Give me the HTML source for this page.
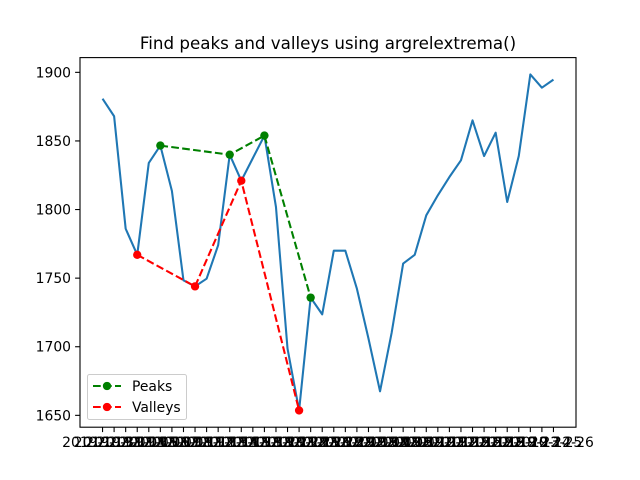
<!DOCTYPE html>
<html><head><meta charset="utf-8"><style>
body{margin:0;background:#fff;}
svg{display:block;font-family:"DejaVu Sans","Liberation Sans",sans-serif;}
</style></head><body>
<svg id="chart" width="640" height="480"></svg>
<script>
const values=[1880.8,1868,1786,1767,1834,1846.6,1813.5,1748.4,1744,1749.6,1774,1840,1821,1837.5,1853.9,1801.8,1698.6,1653.6,1735.8,1723.6,1770,1770,1742.3,1706,1667.5,1710,1760.6,1767,1795.8,1810.4,1823.7,1835.9,1865,1839,1856,1805.5,1839,1898.5,1888.8,1894.7];
const peakIdx=[5,11,14,18];
const valleyIdx=[3,8,12,17];
const yTicks=[1650,1700,1750,1800,1850,1900];
const dates=["2019-10-31","2019-11-01","2019-11-04","2019-11-05","2019-11-06","2019-11-07","2019-11-08","2019-11-11","2019-11-12","2019-11-13","2019-11-14","2019-11-15","2019-11-18","2019-11-19","2019-11-20","2019-11-21","2019-11-22","2019-11-25","2019-11-26","2019-11-27","2019-11-29","2019-12-02","2019-12-03","2019-12-04","2019-12-05","2019-12-06","2019-12-09","2019-12-10","2019-12-11","2019-12-12","2019-12-13","2019-12-16","2019-12-17","2019-12-18","2019-12-19","2019-12-20","2019-12-23","2019-12-24","2019-12-25","2019-12-26"];
const NS="http://www.w3.org/2000/svg";
const svg=document.getElementById('chart');
const L=80,R=576,T=57.6,B=427.2;
const n=values.length;
const xmin=-(n-1)*0.05,xmax=(n-1)*1.05;
const vmin=Math.min(...values),vmax=Math.max(...values),m=(vmax-vmin)*0.05;
const ymin=vmin-m,ymax=vmax+m;
const X=i=>L+(i-xmin)/(xmax-xmin)*(R-L);
const Y=v=>B-(v-ymin)/(ymax-ymin)*(B-T);
function el(tag,attrs,text){const e=document.createElementNS(NS,tag);for(const k in attrs)e.setAttribute(k,attrs[k]);if(text!==undefined)e.textContent=text;svg.appendChild(e);return e;}
let t=el('text',{x:328,y:49,'text-anchor':'middle','font-size':'16.7'},'Find peaks and valleys using argrelextrema()');


yTicks.forEach(v=>{
 const y=Y(v);
 let tk=el('line',{x1:L-4.9,x2:L,y1:y,y2:y,stroke:'#000','stroke-width':1.1});
 
 
 let lb=el('text',{x:L-9,y:y+5,'text-anchor':'end','font-size':'13.9'},v);
 
 
});
dates.forEach((d,i)=>{
 const x=X(i);
 let tk=el('line',{x1:x,x2:x,y1:B,y2:B+4.9,stroke:'#000','stroke-width':1.1});
 
 
 let lb=el('text',{x:x,y:B+20,'text-anchor':'middle','font-size':'13.9'},d);
 
 
});
let line=el('polyline',{points:values.map((v,i)=>X(i)+','+Y(v)).join(' '),fill:'none',stroke:'#1f77b4','stroke-width':2.08,'stroke-linejoin':'round'});


function series(idx,color,name){
 let pl=el('polyline',{points:idx.map(i=>X(i)+','+Y(values[i])).join(' '),fill:'none',stroke:color,'stroke-width':2.08,'stroke-dasharray':'7.7,3.3'});
 
 
 idx.forEach(i=>{
  let c=el('circle',{cx:X(i),cy:Y(values[i]),r:4.17,fill:color});
  
  
 });
}
series(peakIdx,'green','peaks');
series(valleyIdx,'red','valleys');
let fr=el('rect',{x:L,y:T,width:R-L,height:B-T,fill:'none',stroke:'#000','stroke-width':1.1});


let lg=el('rect',{x:87.5,y:374.5,width:99,height:45,fill:'#fff','fill-opacity':0.8,stroke:'#ccc',rx:2});


[['Peaks','green',386],['Valleys','red',407]].forEach(([name,c,y])=>{
 let ln=el('line',{x1:93,x2:121,y1:y,y2:y,stroke:c,'stroke-width':2.08,'stroke-dasharray':'7.7,3.3'});
 
 
 let mk=el('circle',{cx:107,cy:y,r:4.17,fill:c});
 
 
 let tx=el('text',{x:132,y:y+5,'font-size':'13.9'},name);
 
 
});
</script>
</body></html>
